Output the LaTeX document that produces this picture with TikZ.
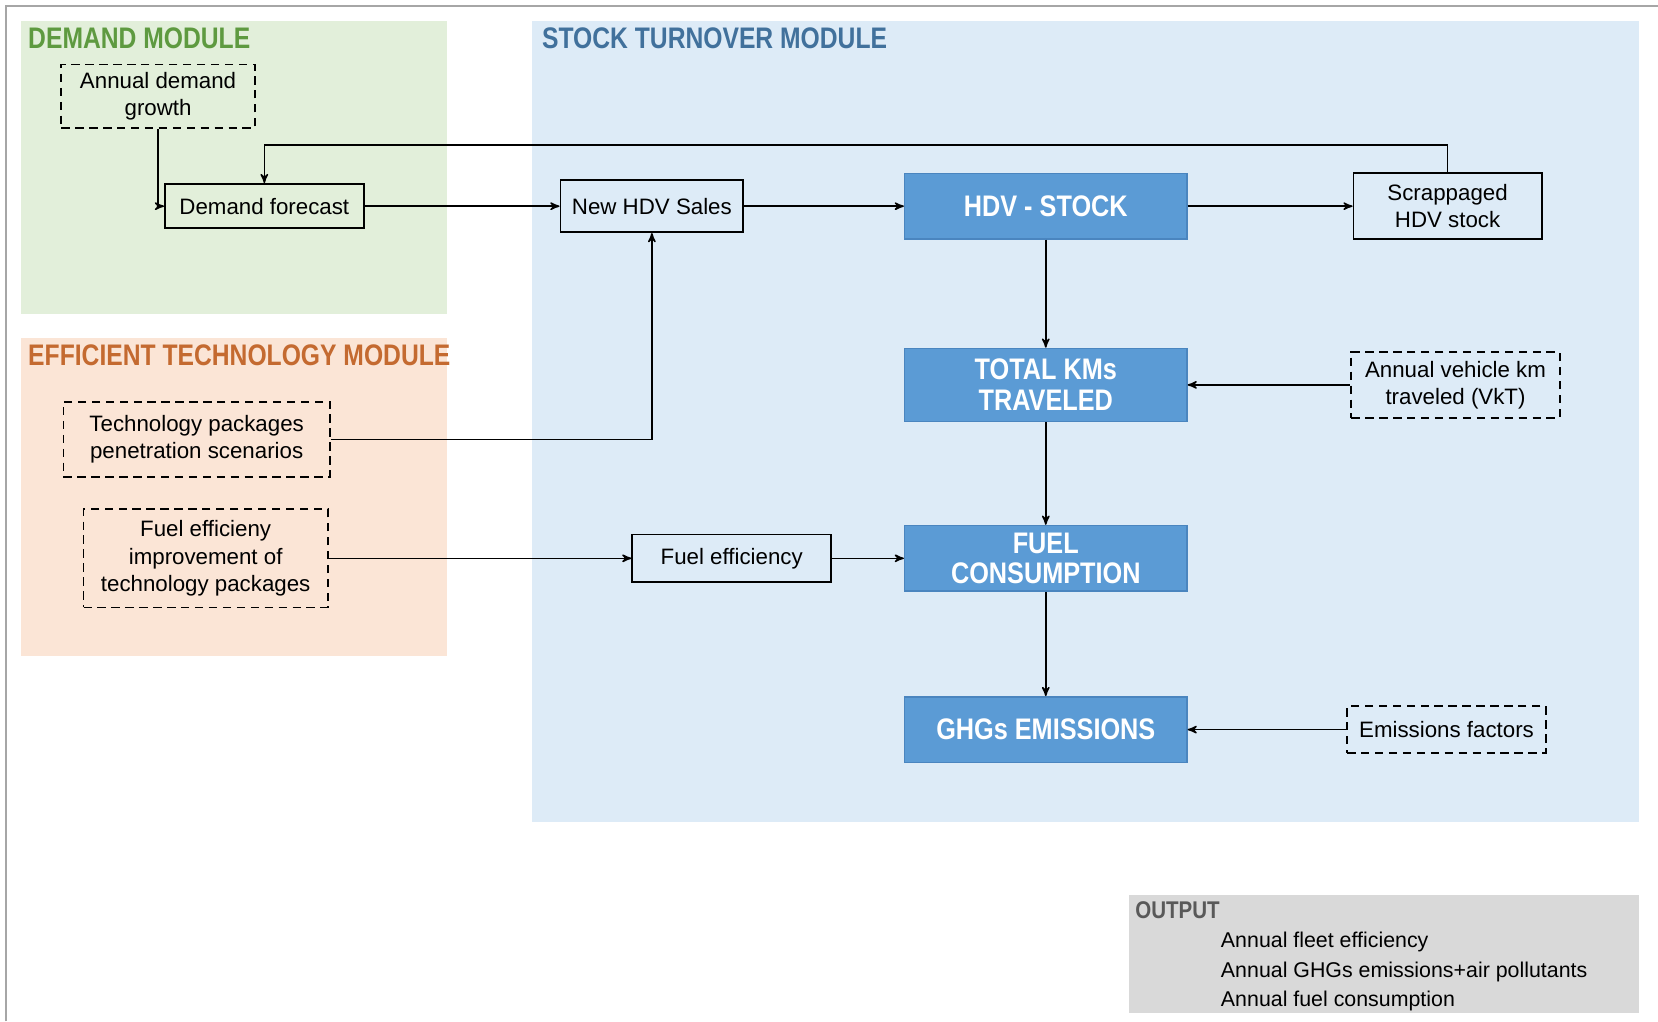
\documentclass[tikz,border=0pt]{standalone}
\usepackage{fontspec}
\setmainfont{Liberation Sans}
\newfontfamily\narrowsf[FakeStretch=0.85]{Liberation Sans}
\newfontfamily\titlesf[FakeStretch=0.83]{Liberation Sans}
\usepackage{tikz}
\usetikzlibrary{arrows}
\definecolor{demandbg}{HTML}{E2EFDA}
\definecolor{demandfg}{HTML}{5E9A40}
\definecolor{techbg}{HTML}{FBE5D6}
\definecolor{techfg}{HTML}{C46A30}
\definecolor{stockbg}{HTML}{DDEBF7}
\definecolor{stockfg}{HTML}{41719C}
\definecolor{stockbox}{HTML}{5B9BD5}
\definecolor{stockedge}{HTML}{4A85BF}
\definecolor{outbg}{HTML}{D9D9D9}
\definecolor{outfg}{HTML}{595959}
\definecolor{framec}{HTML}{A6A6A6}
\tikzstyle{box_s} = [rectangle, draw=black, line width=1pt, align=center, inner sep=0pt, font=\fontsize{12}{14.7}\selectfont]
\tikzstyle{box_d} = [box_s, dash pattern=on 4.5pt off 3pt]
\tikzstyle{box_b} = [rectangle, draw=stockedge, fill=stockbox, text=white, align=center, inner sep=0pt, minimum width=5.34cm, minimum height=1.24cm, font=\narrowsf\bfseries\fontsize{16}{16.5}\selectfont]
\tikzstyle{mod_t} = [anchor=west, inner sep=0pt, font=\titlesf\bfseries\fontsize{16}{16}\selectfont]
\tikzstyle{out_t} = [anchor=base west, inner sep=0pt, text=outfg, font=\narrowsf\bfseries\fontsize{13}{13}\selectfont]
\tikzstyle{out_l} = [anchor=base west, inner sep=0pt, font=\fontsize{11.5}{11.5}\selectfont]

\begin{document}
\begin{tikzpicture}[x=0.02cm, y=-0.02cm, ->, >=stealth', line width=0.8pt]
\useasboundingbox (0,0) rectangle (1568,966);
% module areas
\fill[demandbg] (20,20) rectangle (423,297);
\fill[techbg] (20,320) rectangle (423,620);
\fill[stockbg] (503,20) rectangle (1550,777);
\fill[outbg] (1068,846) rectangle (1550,958);
\draw[-, framec, line width=1pt] (6,966) -- (6,6) -- (1568,6);

\node [mod_t, text=demandfg] (demand_t) at (26,36) {DEMAND MODULE};
\node [mod_t, text=techfg] (tech_t) at (26,336) {EFFICIENT TECHNOLOGY MODULE};
\node [mod_t, text=stockfg] (stock_t) at (512,36) {STOCK TURNOVER MODULE};

% demand module
\node [box_d, minimum width=3.66cm, minimum height=1.2cm] (growth) at (149.5,91) {Annual demand\\growth};
\node [box_s, minimum width=3.76cm, minimum height=0.84cm] (forecast) at (250,195) {Demand forecast};

% technology module
\node [box_d, minimum width=5.04cm, minimum height=1.42cm] (pack) at (186,415.5) {Technology packages\\penetration scenarios};
\node [box_d, minimum width=4.62cm, minimum height=1.86cm] (improve) at (194.5,528) {Fuel efficieny\\improvement of\\technology packages};

% stock turnover module
\node [box_s, minimum width=3.46cm, minimum height=0.98cm] (sales) at (616.5,195) {New HDV Sales};
\node [box_b] (stock) at (989,195) {HDV - STOCK};
\node [box_s, minimum width=3.56cm, minimum height=1.24cm] (scrap) at (1369,195) {Scrappaged\\HDV stock};
\node [box_b, minimum height=1.38cm] (km) at (989,364) {TOTAL KMs\\TRAVELED};
\node [box_d, minimum width=3.94cm, minimum height=1.24cm] (vkt) at (1376.5,364) {Annual vehicle km\\traveled (VkT)};
\node [box_s, minimum width=3.76cm, minimum height=0.9cm] (effic) at (692,528) {Fuel efficiency};
\node [box_b] (fuel) at (989,528) {FUEL\\CONSUMPTION};
\node [box_b] (ghg) at (989,690) {GHGs EMISSIONS};
\node [box_d, minimum width=3.76cm, minimum height=0.88cm] (factor) at (1368,690) {Emissions factors};

% output
\node [out_t] (out_h) at (1073,869) {OUTPUT};
\node [out_l] (out_a) at (1154,896) {Annual fleet efficiency};
\node [out_l] (out_b) at (1154,924) {Annual GHGs emissions+air pollutants};
\node [out_l] (out_c) at (1154,952) {Annual fuel consumption};

% connectors
\coordinate (back) at (1369,137);
\draw (growth.south) |- (forecast.west);
\draw (forecast.east) -- (sales.west);
\draw (sales.east) -- (stock.west);
\draw (stock.east) -- (scrap.west);
\draw (scrap.north) -- (back) -| (forecast.north);
\draw (pack.east) -| (sales.south);
\draw (improve.east) -- (effic.west);
\draw (effic.east) -- (fuel.west);
\draw (stock.south) -- (km.north);
\draw (km.south) -- (fuel.north);
\draw (fuel.south) -- (ghg.north);
\draw (vkt.west) -- (km.east);
\draw (factor.west) -- (ghg.east);
\end{tikzpicture}
\end{document}
